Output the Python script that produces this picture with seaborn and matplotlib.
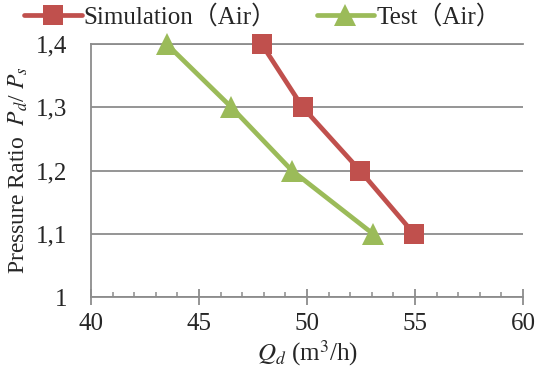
import matplotlib
matplotlib.use("Agg")
import matplotlib.pyplot as plt
import seaborn as sns
import pandas as pd
from matplotlib.ticker import MultipleLocator

sim_q = [47.9, 49.8, 52.45, 54.95]
sim_pr = [1.4, 1.3, 1.2, 1.1]
test_q = [43.5, 46.5, 49.3, 53.05]
test_pr = [1.4, 1.3, 1.2, 1.1]
series_names = ["Simulation\uff08Air\uff09", "Test\uff08Air\uff09"]
y_ticks = [1.0, 1.1, 1.2, 1.3, 1.4]
y_tick_labels = ["1", "1,1", "1,2", "1,3", "1,4"]
x_ticks = [40, 45, 50, 55, 60]

sns.set_style("white")
plt.rcParams['font.family'] = ['Liberation Serif', 'Noto Sans CJK SC', 'DejaVu Sans']
plt.rcParams['mathtext.fontset'] = 'stix'

df = pd.DataFrame({
    "Q": sim_q + test_q,
    "PR": sim_pr + test_pr,
    "series": [series_names[0]] * len(sim_q) + [series_names[1]] * len(test_q),
})

fig = plt.figure(figsize=(5.39, 3.76), dpi=100)
ax = fig.add_axes([91 / 539, 1 - 297 / 376, 432 / 539, 253 / 376])

colors = {series_names[0]: "#C0504D", series_names[1]: "#9BBB59"}
markers = {series_names[0]: "s", series_names[1]: "^"}
sns.lineplot(data=df, x="Q", y="PR", hue="series", style="series",
             palette=colors, markers=markers, dashes=False, sort=False,
             linewidth=3.4, markersize=14, markeredgewidth=0, ax=ax,
             clip_on=False, zorder=3)
for line in ax.lines:
    if line.get_marker() == "^":
        line.set_markersize(16)

ax.set_xlim(40, 60)
ax.set_ylim(1.0, 1.4)
ax.set_xticks(x_ticks)
ax.xaxis.set_minor_locator(MultipleLocator(1))
ax.set_yticks(y_ticks)
ax.set_yticklabels(y_tick_labels)
ax.grid(axis='y', color='#8c8c8c', linewidth=1.3)
ax.grid(axis='x', visible=False)
ax.set_axisbelow(True)

ax.spines["right"].set_visible(False)
for s in ["top", "left", "bottom"]:
    ax.spines[s].set_color('#8c8c8c')
    ax.spines[s].set_linewidth(1.3)

ax.tick_params(axis='x', which='major', direction='inout', length=11.5, width=1.3,
               color='#8c8c8c', labelsize=18, pad=6, bottom=True)
ax.tick_params(axis='x', which='minor', direction='in', length=3.8, width=1.1,
               color='#8c8c8c', bottom=True)
ax.tick_params(axis='y', which='major', length=0, labelsize=18, pad=17)

ax.set_xlabel("$Q_d$ (m$^3$/h)", fontsize=18, labelpad=2)
ax.set_ylabel("Pressure Ratio  $P_d$/ $P_s$", fontsize=17, labelpad=4)

handles, labels = ax.get_legend_handles_labels()
for h in handles:
    if h.get_marker() == "^":
        h.set_markersize(16)
ax.legend(handles, labels, loc='center', bbox_to_anchor=(0.487, 1 - 17 / 376),
          bbox_transform=fig.transFigure, ncol=2, frameon=False, fontsize=18,
          handlelength=2.3, handletextpad=0.08, columnspacing=1.6, borderpad=0.0)

fig.savefig("out.png", dpi=100)
